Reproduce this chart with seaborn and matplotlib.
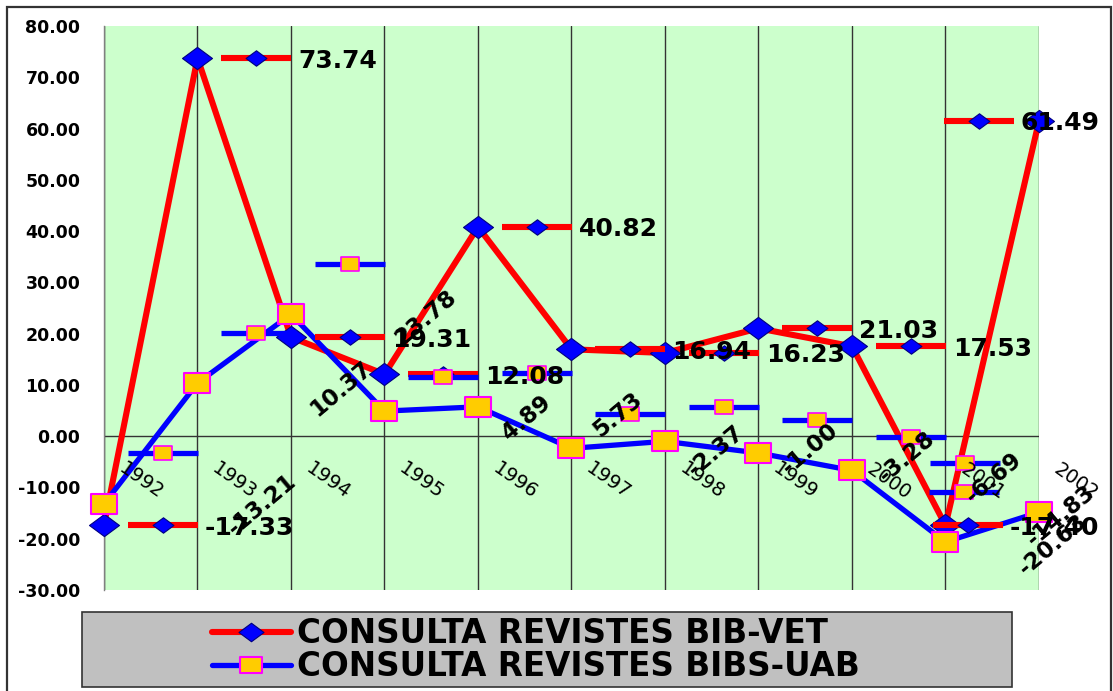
import matplotlib
matplotlib.use("Agg")
import matplotlib.pyplot as plt
import matplotlib.transforms as mtrans
from matplotlib.path import Path
from matplotlib.patches import Rectangle
from matplotlib.lines import Line2D
import seaborn as sns
import pandas as pd

# ---------------- data ----------------
years = [1992, 1993, 1994, 1995, 1996, 1997, 1998, 1999, 2000, 2001, 2002]
vet_values = [-17.33, 73.74, 19.31, 12.08, 40.82, 16.94, 16.23, 21.03, 17.53, -17.40, 61.49]
uab_values = [-13.21, 10.37, 23.78, 4.89, 5.73, -2.37, -1.00, -3.28, -6.69, -20.63, -14.83]
series_names = ["CONSULTA REVISTES BIB-VET", "CONSULTA REVISTES BIBS-UAB"]
y_ticks = [-30, -20, -10, 0, 10, 20, 30, 40, 50, 60, 70, 80]

# ---------------- label layout (pixel offsets) ----------------
vet_key_dx = [59, 59, 59, 59, 59, 59, 59, 59, 59, 23, -60]
vet_text_dx = [101, 101, 101, 101, 101, 101, 101, 101, 101, 64, -18]
uab_key_dx = [59, 59, 59, 59, 59, 59, 59, 59, 59, 20, -75]
uab_key_dy = [51, 50, 50, 34, 34, 34, 34, 33, 33, 79, 20]
uab_text_dx = [158, 144, 135, 142, 140, 144, 145, 148, 142, 107, 22]
uab_text_dy = [-1, -6, -4, -7, -8, -2, -7, -4, -7, -3, -3]

RED = "#FF0000"
BLUE = "#0000FF"
NAVY = "#000080"
GOLD = "#FFCC00"
MAGENTA = "#FF00FF"
PLOT_BG = "#CCFFCC"

diamond = Path([(-1.35, 0), (0, 1), (1.35, 0), (0, -1), (-1.35, 0)],
               [Path.MOVETO, Path.LINETO, Path.LINETO, Path.LINETO, Path.CLOSEPOLY])
rect = Path([(-1.3, -1), (1.3, -1), (1.3, 1), (-1.3, 1), (-1.3, -1)],
            [Path.MOVETO, Path.LINETO, Path.LINETO, Path.LINETO, Path.CLOSEPOLY])

sns.set_theme(style="white")
plt.rcParams["font.family"] = ["DejaVu Sans"]
plt.rcParams["text.color"] = "black"
plt.rcParams["axes.labelcolor"] = "black"
plt.rcParams["ytick.color"] = "black"

W, H = 1113, 691
fig = plt.figure(figsize=(W / 100, H / 100), dpi=100)
fig.patch.set_facecolor("white")
ax = fig.add_axes([104 / W, 1 - 590 / H, (1039 - 104) / W, (590 - 26) / H])
ax.set_facecolor(PLOT_BG)

df_vet = pd.DataFrame({"year": years, "value": vet_values})
df_uab = pd.DataFrame({"year": years, "value": uab_values})

sns.lineplot(data=df_vet, x="year", y="value", ax=ax, color=RED, lw=4.4,
             marker=diamond, ms=21.6, mfc=BLUE, mec=NAVY, mew=0.8,
             clip_on=False, zorder=3, legend=False)
sns.lineplot(data=df_uab, x="year", y="value", ax=ax, color=BLUE, lw=3.8,
             marker=rect, ms=19.4, mfc=GOLD, mec=MAGENTA, mew=1.5,
             clip_on=False, zorder=4, legend=False)

ax.set_xlim(years[0], years[-1])
ax.set_ylim(y_ticks[0], y_ticks[-1])
ax.set_xlabel("")
ax.set_ylabel("")

# grid / axes
ax.set_xticks(years)
ax.tick_params(axis="x", length=0, labelbottom=False)
ax.grid(axis="x", color="#333333", lw=1)
ax.grid(axis="y", visible=False)
ax.set_axisbelow(True)
ax.axhline(0, color="#333333", lw=1, zorder=1)
for s in ["top", "right", "bottom"]:
    ax.spines[s].set_visible(False)
ax.spines["left"].set_color("#808080")
ax.spines["left"].set_linewidth(1)
ax.set_yticks(y_ticks)
ax.set_yticklabels([f"{t:.2f}" for t in y_ticks], fontweight="bold", fontsize=12.5,
                   color="black")
ax.tick_params(axis="y", length=7, width=1, color="#808080", pad=10, labelcolor="black")


def off(dx, dy):
    return mtrans.offset_copy(ax.transData, fig=fig, x=dx, y=dy, units="dots")


# category labels inside the plot
for x in years:
    ax.annotate(str(x), (x, 0), xytext=(37, -45), textcoords="offset pixels",
                ha="center", va="center", rotation=-35, fontsize=14,
                color="black", zorder=8, annotation_clip=False)

# red series data labels
for x, v, kdx, tdx in zip(years, vet_values, vet_key_dx, vet_text_dx):
    ax.plot([x], [v], marker="_", ms=50.4, mew=4.4, color=RED,
            transform=off(kdx, 0), zorder=6, clip_on=False)
    ax.plot([x], [v], marker=diamond, ms=15, mfc=BLUE, mec=NAVY, mew=0.8,
            transform=off(kdx, 0), zorder=6.1, clip_on=False, ls="none")
    ax.annotate(f"{v:.2f}", (x, v), xytext=(tdx, 0), textcoords="offset pixels",
                ha="left", va="center_baseline", fontsize=18, fontweight="bold",
                color="black", zorder=9, annotation_clip=False)

# blue series data labels
for x, v, kdx, kdy, tdx, tdy in zip(years, uab_values, uab_key_dx, uab_key_dy,
                                    uab_text_dx, uab_text_dy):
    ax.plot([x], [v], marker="_", ms=50.4, mew=3.8, color=BLUE,
            transform=off(kdx, kdy), zorder=7, clip_on=False)
    ax.plot([x], [v], marker=rect, ms=13, mfc=GOLD, mec=MAGENTA, mew=1.2,
            transform=off(kdx, kdy), zorder=7.1, clip_on=False, ls="none")
    ax.annotate(f"{v:.2f}", (x, v), xytext=(tdx, tdy), textcoords="offset pixels",
                ha="center", va="center", rotation=40, fontsize=16.5,
                fontweight="bold", color="black", zorder=9, annotation_clip=False)

# outer chart frame
fig.patches.append(Rectangle((7 / W, -0.05), (1111 - 7) / W, 1 - 7 / H + 0.05,
                             transform=fig.transFigure, fill=False,
                             ec="#333333", lw=1.6, zorder=0))
# legend box
fig.patches.append(Rectangle((82 / W, 1 - 687 / H), (1012 - 82) / W, 75 / H,
                             transform=fig.transFigure, fc="#C0C0C0",
                             ec="#333333", lw=1.2, zorder=1))

handles = [
    Line2D([], [], color=RED, lw=4.4, marker=diamond, ms=18, mfc=BLUE, mec=NAVY, mew=0.8),
    Line2D([], [], color=BLUE, lw=3.8, marker=rect, ms=15.8, mfc=GOLD, mec=MAGENTA, mew=1.5),
]
leg = fig.legend(handles, series_names, loc="center",
                 bbox_to_anchor=(536 / W, 1 - 650 / H), bbox_transform=fig.transFigure,
                 frameon=False, numpoints=1, borderpad=0,
                 prop=dict(family="DejaVu Sans", weight="bold", size=23.5),
                 handlelength=2.4, handletextpad=0.2, labelspacing=0.0)
for t in leg.get_texts():
    t.set_color("black")
leg.set_zorder(5)

fig.savefig("out.png", dpi=100)
